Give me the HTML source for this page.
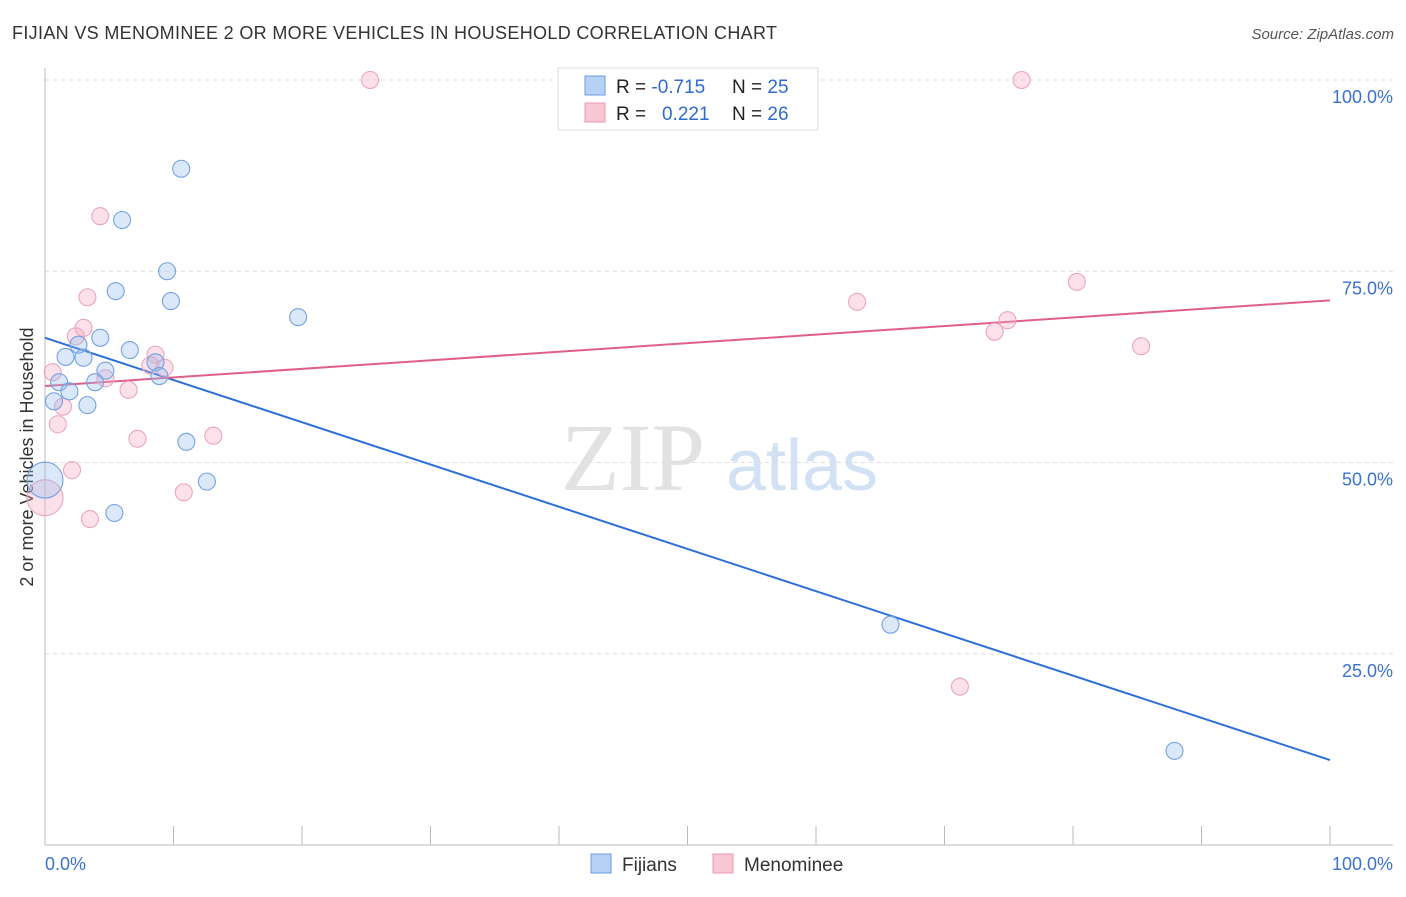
<!DOCTYPE html>
<html><head><meta charset="utf-8"><style>
body{margin:0;background:#fff;font-family:"Liberation Sans",sans-serif}
svg text{font-family:"Liberation Sans",sans-serif}
</style></head><body>
<svg width="1406" height="892" id="c">
<text x="12" y="39" font-size="18" fill="#333" textLength="765">FIJIAN VS MENOMINEE 2 OR MORE VEHICLES IN HOUSEHOLD CORRELATION CHART</text>
<text x="1394" y="39" font-size="15" fill="#555" font-style="italic" text-anchor="end">Source: ZipAtlas.com</text>
<text x="0" y="0" font-size="18" fill="#333" text-anchor="middle" transform="translate(33,457) rotate(-90)">2 or more Vehicles in Household</text>
<g>
<text x="633" y="490" font-size="96" fill="#e2e2e2" text-anchor="middle" font-family="Liberation Serif" style="font-family:'Liberation Serif',serif">ZIP</text>
<text x="802" y="490" font-size="72" fill="#d3e1f5" text-anchor="middle">atlas</text>
</g>
<g id="grid"></g><g id="axes"></g><g id="lines"></g><g id="pts"></g>
<g>
<rect x="558" y="68" width="260" height="62" fill="#fff" stroke="#ddd"/>
<rect x="585" y="76" width="20" height="19" fill="#b7d1f5" stroke="#6a9be0"/>
<rect x="585" y="103" width="20" height="19" fill="#f9c6d5" stroke="#e89ab2"/>
<text x="616" y="93" font-size="19" fill="#222">R = <tspan fill="#2e6bd0">-0.715</tspan></text>
<text x="732" y="93" font-size="19" fill="#222">N = <tspan fill="#2e6bd0">25</tspan></text>
<text x="616" y="120" font-size="19" fill="#222">R = <tspan fill="#2e6bd0" x="662">0.221</tspan></text>
<text x="732" y="120" font-size="19" fill="#222">N = <tspan fill="#2e6bd0">26</tspan></text>
</g>
<g>
<rect x="591" y="854" width="20" height="19" fill="#b7d1f5" stroke="#6a9be0"/>
<text x="622" y="871" font-size="19" fill="#333">Fijians</text>
<rect x="713" y="854" width="20" height="19" fill="#f9c6d5" stroke="#e89ab2"/>
<text x="744" y="871" font-size="19" fill="#333">Menominee</text>
</g>
</svg>
<script>
const yTicks=[25,50,75,100];
const yTickLabels=["25.0%","50.0%","75.0%","100.0%"];
const xTickLabels=["0.0%","100.0%"];
const fijX=[10.6,6.0,9.5,5.5,9.8,19.7,4.3,2.6,6.6,1.6,3.0,4.7,8.6,8.9,3.9,1.1,1.9,0.7,3.3,11.0,12.6,5.4,0.0,65.8,87.9];
const fijY=[88.4,81.7,75.0,72.4,71.1,69.0,66.3,65.4,64.7,63.8,63.7,62.0,63.1,61.3,60.5,60.5,59.3,58.0,57.5,52.7,47.5,43.4,47.7,28.8,12.3];
const fijBig=[22];
const menX=[25.3,76.0,4.3,3.3,80.3,63.2,74.9,73.9,3.0,2.4,85.3,8.6,8.2,9.3,0.6,4.7,6.5,1.4,1.0,7.2,13.1,2.1,10.8,3.5,0.0,71.2];
const menY=[100,100,82.2,71.6,73.6,71.0,68.6,67.1,67.6,66.5,65.2,64.1,62.7,62.4,61.8,61.0,59.5,57.3,55.0,53.1,53.5,49.0,46.1,42.6,45.4,20.7];
const menBig=[24];
const fijLine=[66.3,11.1];
const menLine=[60.0,71.2];
const NS="http://www.w3.org/2000/svg";
const X=v=>45+v*12.85, Y=v=>845-v*7.65;
function mk(t,a,p){const e=document.createElementNS(NS,t);for(const k in a)e.setAttribute(k,a[k]);document.getElementById(p).appendChild(e);return e;}
yTicks.forEach((t,i)=>{
 const g=mk('line',{x1:45,x2:1393,y1:Y(t),y2:Y(t),stroke:'#ddd','stroke-dasharray':'4,4'},'grid');
 
 
 const l=mk('text',{x:1393,y:Y(t)+23,'font-size':18,fill:'#3a72d0','text-anchor':'end'},'axes');l.textContent=yTickLabels[i];
 
 
});
mk('line',{x1:45,x2:45,y1:68,y2:845,stroke:'#bbb'},'axes');
mk('line',{x1:45,x2:1393,y1:845,y2:845,stroke:'#bbb'},'axes');
for(let i=0;i<=10;i++){const t=mk('line',{x1:X(i*10),x2:X(i*10),y1:826,y2:845,stroke:'#bbb'},'axes');
 
 }
[[0,'start'],[100,'end']].forEach(([v,a],i)=>{const l=mk('text',{x:X(v)+(i?63:0),y:870,'font-size':18,fill:'#3a72d0','text-anchor':a},'axes');l.textContent=xTickLabels[i];
 
 });
function pts(xs,ys,big,fill,stroke,name){xs.forEach((x,i)=>{const c=mk('circle',{cx:X(x),cy:Y(ys[i]),r:big.includes(i)?18:8.5,fill:fill,stroke:stroke,'stroke-width':1.1},'pts');
 
 });}
pts(menX,menY,menBig,'rgba(245,170,195,0.35)','#eaa6bc','menominee-point');
pts(fijX,fijY,fijBig,'rgba(150,190,240,0.35)','#74a2e2','fijians-point');
const a=mk('line',{x1:X(0),y1:Y(fijLine[0]),x2:X(100),y2:Y(fijLine[1]),stroke:'#2d6fd8','stroke-width':2},'lines');


const b=mk('line',{x1:X(0),y1:Y(menLine[0]),x2:X(100),y2:Y(menLine[1]),stroke:'#e0608a','stroke-width':2},'lines');


</script>
</body></html>
